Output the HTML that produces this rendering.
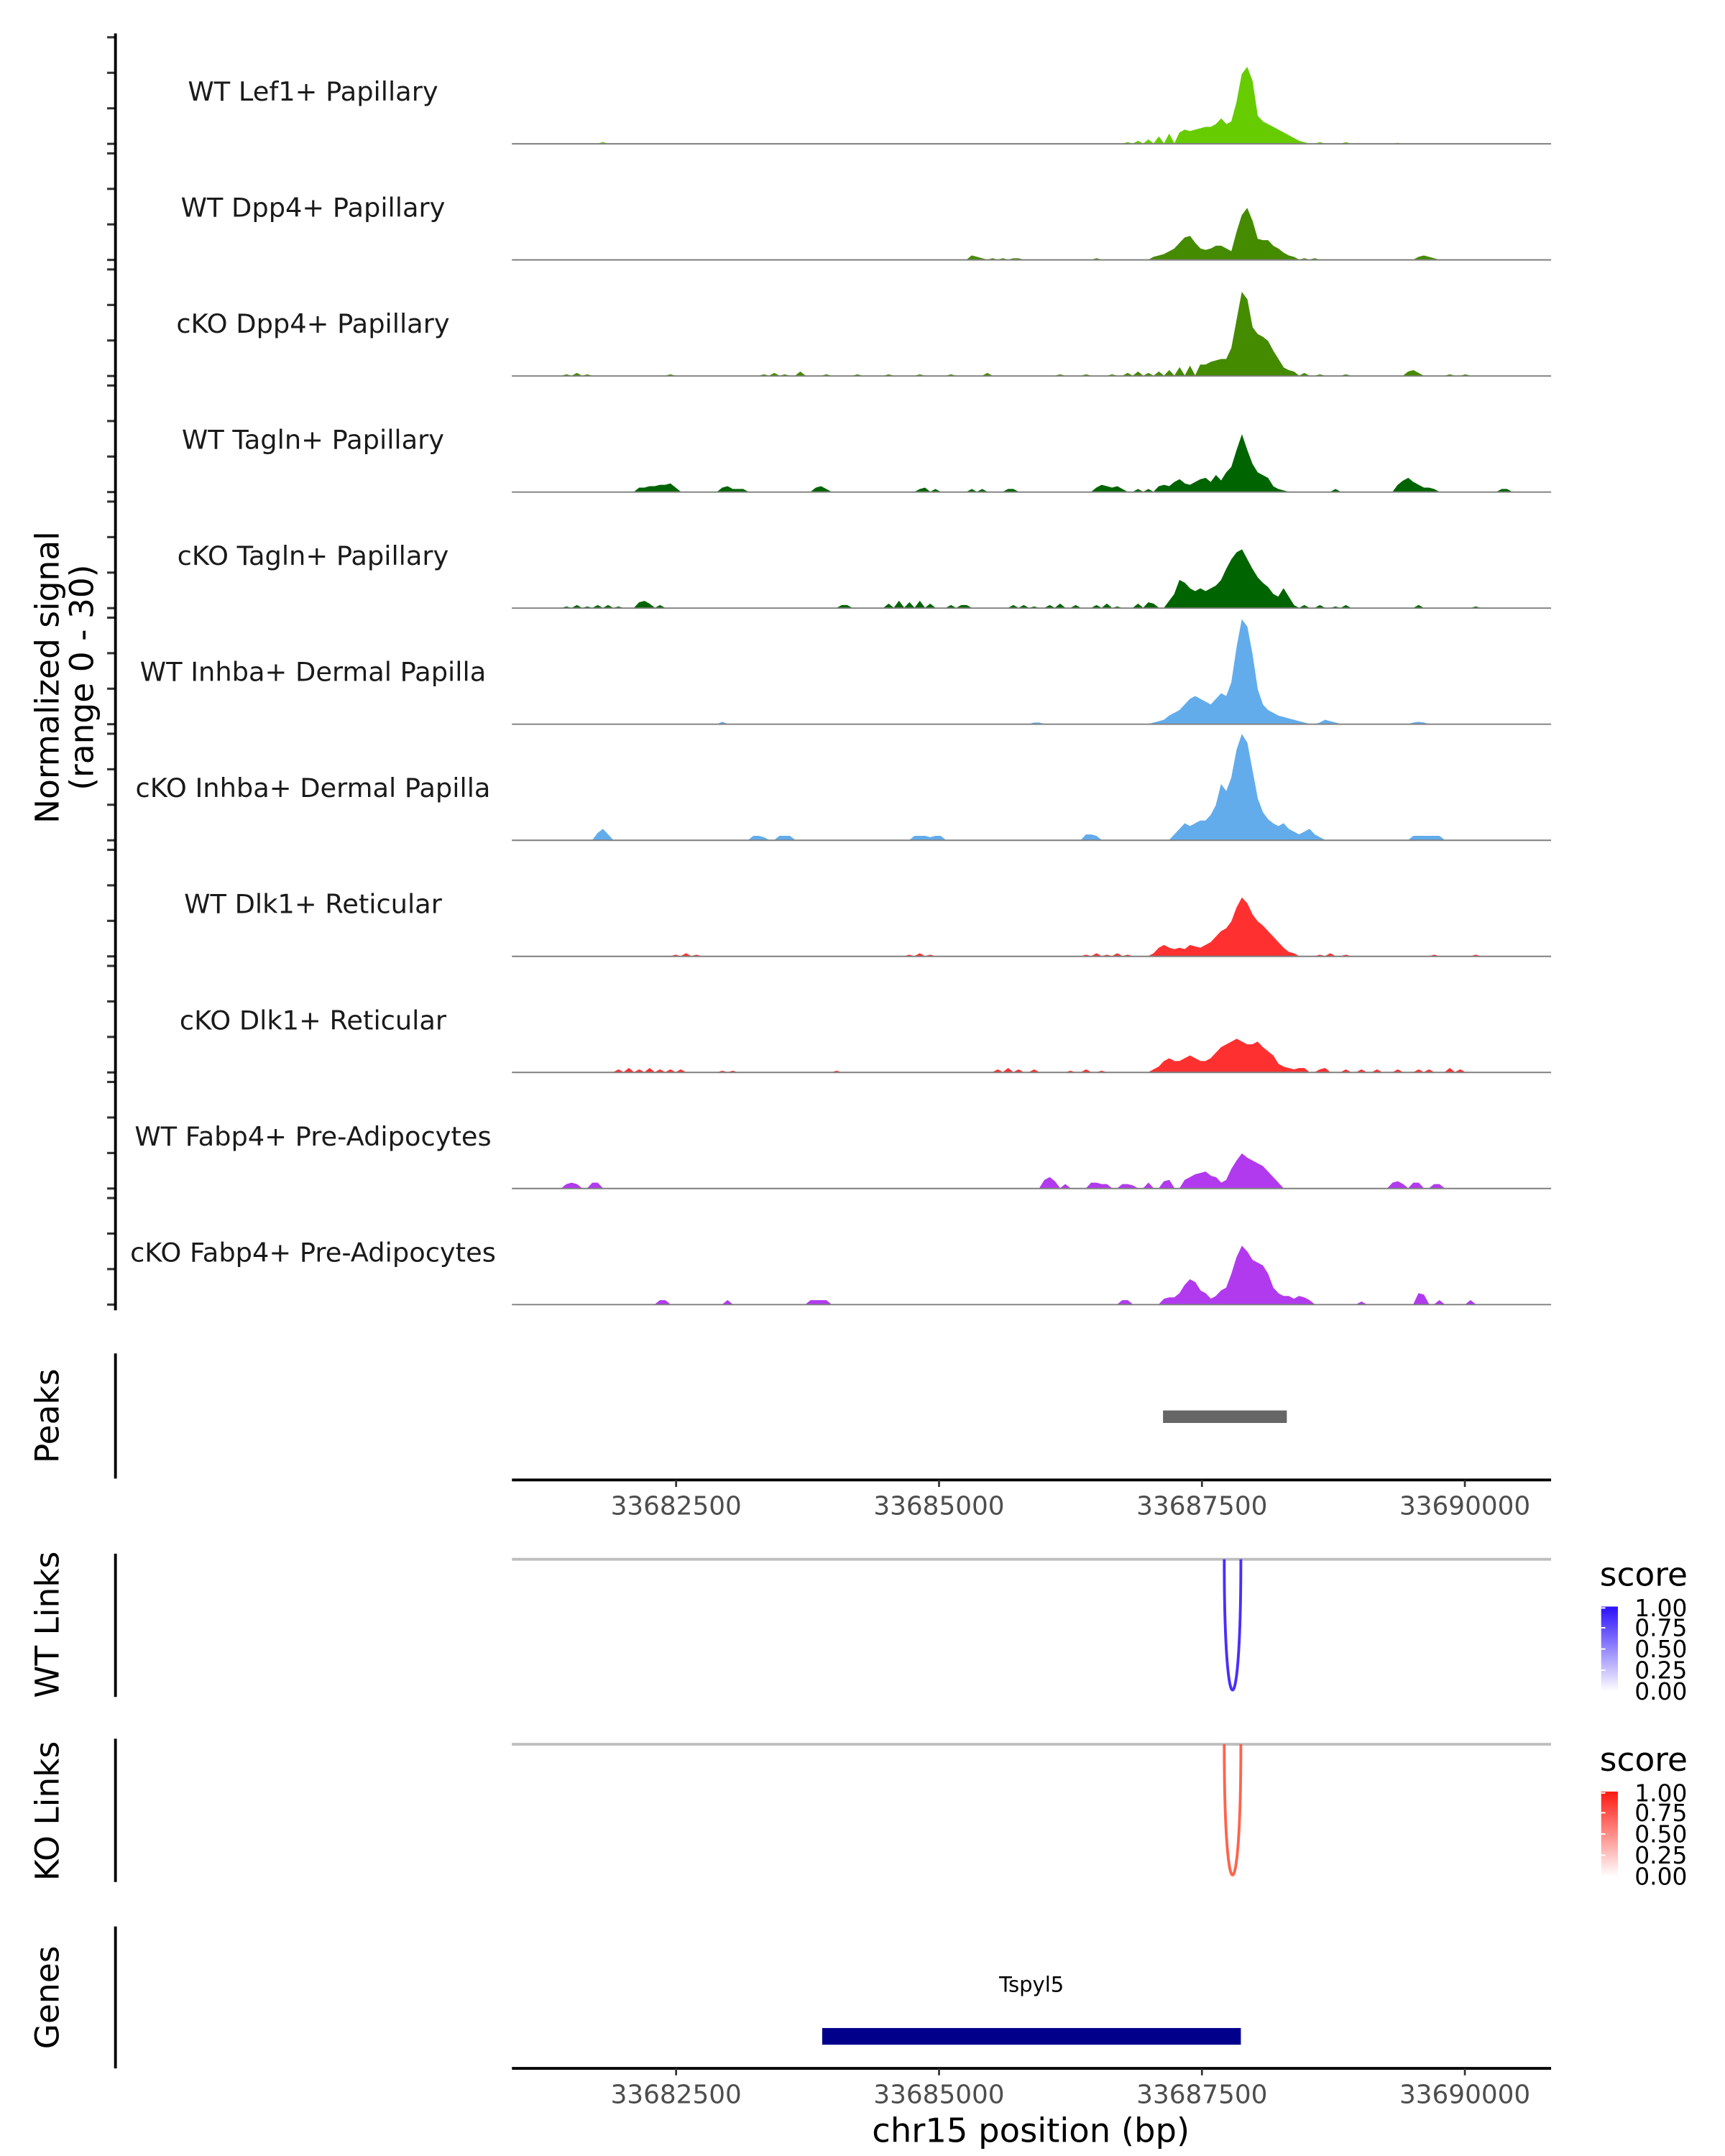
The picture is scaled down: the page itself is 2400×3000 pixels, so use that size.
<!DOCTYPE html>
<html><head><meta charset="utf-8">
<style>
html,body{margin:0;padding:0;background:#fff;}
svg{display:block;}
text{font-family:"DejaVu Sans","Liberation Sans",sans-serif;}
</style></head>
<body>
<svg id="chart" xmlns="http://www.w3.org/2000/svg" width="2400" height="3000" viewBox="0 0 1240 1550">
<rect width="1240" height="1550" fill="#fff"/>
<g id="tracks"></g>
<g id="left"></g>
<text transform="translate(42,487) rotate(-90)" text-anchor="middle" font-size="23.5" fill="#000">Normalized signal</text>
<text transform="translate(67,487) rotate(-90)" text-anchor="middle" font-size="23.5" fill="#000">(range 0 - 30)</text>
<text transform="translate(42,1018) rotate(-90)" text-anchor="middle" font-size="23.5">Peaks</text>
<text transform="translate(42,1168) rotate(-90)" text-anchor="middle" font-size="23.5">WT Links</text>
<text transform="translate(42,1302) rotate(-90)" text-anchor="middle" font-size="23.5">KO Links</text>
<text transform="translate(42,1436) rotate(-90)" text-anchor="middle" font-size="23.5">Genes</text>
<g id="lower"></g>
<text x="741" y="1540" text-anchor="middle" font-size="24">chr15 position (bp)</text>
<defs>
<linearGradient id="gBlue" x1="0" y1="1" x2="0" y2="0"><stop offset="0" stop-color="#ffffff"/><stop offset="1" stop-color="#2a10ff"/></linearGradient>
<linearGradient id="gRed" x1="0" y1="1" x2="0" y2="0"><stop offset="0" stop-color="#ffffff"/><stop offset="1" stop-color="#ff1a10"/></linearGradient>
</defs>
</svg>
<script>
const NS="http://www.w3.org/2000/svg";
const xMinBp=33680939, xMaxBp=33690820;
const nBins=200;
const xTicks=[33682500,33685000,33687500,33690000];
const trackNames=["WT Lef1+ Papillary","WT Dpp4+ Papillary","cKO Dpp4+ Papillary","WT Tagln+ Papillary","cKO Tagln+ Papillary","WT Inhba+ Dermal Papilla","cKO Inhba+ Dermal Papilla","WT Dlk1+ Reticular","cKO Dlk1+ Reticular","WT Fabp4+ Pre-Adipocytes","cKO Fabp4+ Pre-Adipocytes"];
const trackColors=["#66cc00","#458b00","#458b00","#006400","#006400","#63acec","#63acec","#ff3030","#ff3030","#b23aee","#b23aee"];
// sparse coverage: bin indices (200 bins across region) and values (signal, 77.5 = top of range)
const lef1Bins=[17,118,120,122,124,126,128,129,130,131,132,133,134,135,136,137,138,139,140,141,142,143,144,145,146,147,148,149,150,151,152,155,160,170];
const lef1Vals=[1,1,2,3,5,7,8,10,9,10,11,12,12,14,18,14,16,30,50,55,45,20,16,14,12,10,8,6,4,2,1,1,1,0.5];
const wtDpp4Bins=[88,89,90,92,94,96,97,112,123,124,125,126,127,128,129,130,131,132,133,134,135,136,137,138,139,140,141,142,143,144,145,146,147,148,149,150,152,154,174,175,176,177];
const wtDpp4Vals=[3,2,1,1,1,1,1,1,2,3,4,6,8,12,16,17,12,8,7,8,10,10,8,6,20,32,37,28,15,14,14,10,8,5,3,2,1,1,2,3,2,1];
const koDpp4Bins=[10,12,14,30,48,50,52,55,60,66,72,78,84,91,105,110,115,118,120,122,124,126,128,130,132,133,134,135,136,137,138,139,140,141,142,143,144,145,146,147,148,149,150,152,155,160,172,173,174,180,183];
const koDpp4Vals=[1,2,1,1,1,2,1,3,1,1,1,1,1,2,1,1,1,2,3,2,3,4,6,7,8,8,10,11,12,12,20,40,60,55,35,30,28,25,18,12,6,4,3,2,1,1,3,4,2,1,1];
const wtTaglnBins=[24,25,26,27,28,29,30,31,40,41,42,43,44,58,59,60,78,79,81,88,90,95,96,112,113,114,115,116,117,120,122,124,125,126,127,128,129,130,131,132,133,134,135,136,137,138,139,140,141,142,143,144,145,146,147,148,158,170,171,172,173,174,175,176,177,190,191];
const wtTaglnVals=[3,3,4,4,5,5,6,3,3,4,2,2,2,3,4,2,2,3,2,2,2,2,2,3,5,4,3,4,2,2,2,4,5,4,7,9,6,5,7,9,10,7,12,8,14,18,30,41,30,20,14,12,10,4,2,1,2,5,8,10,7,5,3,3,2,2,2];
const koTaglnBins=[10,12,14,16,18,20,24,25,26,28,63,64,72,74,76,78,80,84,86,87,96,98,100,103,105,108,112,114,116,120,122,123,126,127,128,129,130,131,132,133,134,135,136,137,138,139,140,141,142,143,144,145,146,147,148,149,150,152,155,158,160,174,185];
const koTaglnVals=[1,2,1,2,2,1,4,5,3,2,2,2,3,5,4,5,3,2,2,2,2,2,1,2,3,2,2,3,1,3,4,3,5,10,20,18,14,12,14,12,14,16,20,28,35,40,42,35,28,22,18,15,10,8,14,8,2,2,2,1,2,2,1];
const wtInhbaBins=[40,100,101,123,124,125,126,127,128,129,130,131,132,133,134,135,136,137,138,139,140,141,142,143,144,145,146,147,148,149,150,151,152,155,156,157,158,173,174,175];
const wtInhbaVals=[1.5,1,1,1,2,3,6,8,10,14,18,20,18,16,14,18,22,20,30,55,75,70,50,25,14,10,8,6,5,4,3,2,1,1,3,2,1,1,1.5,1];
const koInhbaBins=[16,17,18,46,47,48,51,52,53,77,78,79,80,81,82,110,111,112,127,128,129,130,131,132,133,134,135,136,137,138,139,140,141,142,143,144,145,146,147,148,149,150,151,152,153,154,155,173,174,175,176,177,178];
const koInhbaVals=[5,8,4,3,3,2,3,3,3,3,3,3,2,3,3,4,4,3,4,8,12,10,12,14,14,18,25,40,35,45,65,76,70,50,30,20,15,12,10,12,8,6,4,6,8,4,2,3,3,3,3,3,3];
const wtDlk1Bins=[31,33,35,76,78,80,110,112,114,116,118,123,124,125,126,127,128,129,130,131,132,133,134,135,136,137,138,139,140,141,142,143,144,145,146,147,148,149,150,155,157,160,177,185];
const wtDlk1Vals=[1,2,1,1,2,1,1,2,1,2,1,2,6,8,6,5,6,5,8,7,6,8,10,14,18,20,25,35,42,38,30,25,22,18,14,10,6,3,2,1,2,1,1,1];
const koDlk1Bins=[20,22,24,26,28,30,32,40,42,62,93,95,97,100,107,110,113,123,124,125,126,127,128,129,130,131,132,133,134,135,136,137,138,139,140,141,142,143,144,145,146,147,148,149,150,151,152,155,156,160,163,166,170,174,176,180,182];
const koDlk1Vals=[2,3,2,3,2,2,2,1,1,1,2,3,2,2,1,2,1,2,4,8,10,8,8,10,12,10,8,8,10,14,18,20,22,24,22,20,20,22,18,15,12,6,4,3,2,3,3,2,3,2,2,2,2,2,2,3,2];
const wtFabp4Bins=[10,11,12,15,16,102,103,104,106,111,112,113,114,117,118,119,122,125,126,129,130,131,132,133,134,135,136,137,138,139,140,141,142,143,144,145,146,147,169,170,171,173,174,177,178];
const wtFabp4Vals=[3,4,3,4,4,6,8,5,3,4,4,3,3,3,3,2,4,5,6,6,8,10,11,12,9,8,4,6,14,20,25,22,20,18,16,12,8,4,4,5,3,4,4,3,3];
const koFabp4Bins=[28,29,41,57,58,59,60,117,118,125,126,127,128,129,130,131,132,133,134,135,136,137,138,139,140,141,142,143,144,145,146,147,148,149,150,151,152,153,163,174,175,178,184];
const koFabp4Vals=[3,3,3,3,3,3,3,3,3,4,5,5,8,14,18,16,10,8,4,6,10,12,22,34,42,38,32,30,28,22,12,8,6,6,4,6,5,3,2,8,7,3,3];
const trackBins=[lef1Bins,wtDpp4Bins,koDpp4Bins,wtTaglnBins,koTaglnBins,wtInhbaBins,koInhbaBins,wtDlk1Bins,koDlk1Bins,wtFabp4Bins,koFabp4Bins];
const trackVals=[lef1Vals,wtDpp4Vals,koDpp4Vals,wtTaglnVals,koTaglnVals,wtInhbaVals,koInhbaVals,wtDlk1Vals,koDlk1Vals,wtFabp4Vals,koFabp4Vals];
const peakStarts=[33687130], peakEnds=[33688307];
const wtLinkStarts=[33687712], wtLinkEnds=[33687870], wtLinkScores=[0.9];
const koLinkStarts=[33687712], koLinkEnds=[33687870], koLinkScores=[0.8];
const geneNames=["Tspyl5"], geneStarts=[33683889], geneEnds=[33687870];
const legendTicks=["1.00","0.75","0.50","0.25","0.00"];

const X0=368, X1=1115;
function xs(bp){return X0+(bp-xMinBp)/(xMaxBp-xMinBp)*(X1-X0);}
const binW=(xMaxBp-xMinBp)/nBins;
const YMAX=77.5, TRACK_H=77.5;
function baseY(k){return 103.4+83.45*k;}
function mk(tag,attrs,parent,txt){const e=document.createElementNS(NS,tag);for(const a in attrs)e.setAttribute(a,attrs[a]);if(txt!==undefined)e.textContent=txt;parent.appendChild(e);return e;}

const tg=document.getElementById('tracks');
const left=document.getElementById('left');
trackNames.forEach((nm,k)=>{
  const b=baseY(k);
  const arr=new Array(nBins).fill(0);
  trackBins[k].forEach((bi,j)=>{arr[bi]=trackVals[k][j];});
  let d="M"+X0+","+b;
  for(let i=0;i<nBins;i++){
    const xc=xs(xMinBp+(i+0.5)*binW);
    const y=b-arr[i]/YMAX*TRACK_H;
    d+=" L"+xc.toFixed(2)+","+y.toFixed(2);
  }
  d+=" L"+X1+","+b+" Z";
  const p=mk('path',{d:d,fill:trackColors[k],stroke:trackColors[k],'stroke-width':0.4},tg);
  
  
  const bl=mk('line',{x1:X0,x2:X1,y1:b,y2:b,stroke:'#7f7f7f','stroke-width':1},tg);
  
  
  const t=mk('text',{x:225,y:b-31,'text-anchor':'middle','font-size':19,fill:'#1a1a1a'},tg,nm);
  
  
  [0,10,20,30].forEach(v=>{
    const ty=b-v/30*76.6;
    const tk=mk('line',{x1:77,x2:83,y1:ty,y2:ty,stroke:'#333','stroke-width':1.6},left);
    
    
  });
});
const ax=mk('line',{x1:83,x2:83,y1:24,y2:942,stroke:'#000','stroke-width':2},left);



const lw=document.getElementById('lower');
[[973,1063],[1117,1220],[1250,1353],[1385,1487]].forEach(r=>{
  const l=mk('line',{x1:83,x2:83,y1:r[0],y2:r[1],stroke:'#000','stroke-width':2},lw);
  
  
});
peakStarts.forEach((s,i)=>{
  const r=mk('rect',{x:xs(s),y:1014,width:xs(peakEnds[i])-xs(s),height:9,fill:'#666'},lw);
  
  
});
function xAxis(y,name){
  const l=mk('line',{x1:X0,x2:X1,y1:y,y2:y,stroke:'#000','stroke-width':2},lw);
  
  
  xTicks.forEach(v=>{
    const tk=mk('line',{x1:xs(v),x2:xs(v),y1:y,y2:y+5,stroke:'#333','stroke-width':1.4},lw);
    
    
    const tl=mk('text',{x:xs(v),y:y+25,'text-anchor':'middle','font-size':18.5,fill:'#4d4d4d'},lw,String(v));
    
    
  });
}
xAxis(1064,'peaks-x-axis');
xAxis(1487,'genes-x-axis');

function links(y0,starts,ends,scores,col,grad,name){
  const g=mk('line',{x1:X0,x2:X1,y1:y0,y2:y0,stroke:'#bebebe','stroke-width':2},lw);
  
  
  starts.forEach((s,i)=>{
    const a=xs(s), b=xs(ends[i]), depth=94;
    const c=y0+depth/0.75;
    const p=mk('path',{d:`M${a},${y0} C${a},${c} ${b},${c} ${b},${y0}`,fill:'none',stroke:col,'stroke-width':2,'stroke-opacity':0.3+0.7*scores[i]},lw);
    
    
  });
  const lt=mk('text',{x:1150,y:y0+19,'font-size':23.5},lw,'score');
  
  
  const top=y0+34, h=61;
  const cb=mk('rect',{x:1151,y:top,width:12,height:h,fill:`url(#${grad})`},lw);
  
  
  legendTicks.forEach((t,i)=>{
    const ty=top+i*h/4+(i===0?1:0);
    const tl=mk('text',{x:1175,y:ty+6,'font-size':17},lw,t);
    
    
    const tk=mk('line',{x1:1151,x2:1154,y1:ty,y2:ty,stroke:'#fff','stroke-width':1},lw);
    
    
  });
}
links(1121,wtLinkStarts,wtLinkEnds,wtLinkScores,'#3b1eff','gBlue','wt-link-arc');
links(1254,koLinkStarts,koLinkEnds,koLinkScores,'#ff4b30','gRed','ko-link-arc');

geneNames.forEach((gname,i)=>{
  const a=xs(geneStarts[i]), b=xs(geneEnds[i]);
  const r=mk('rect',{x:a,y:1458,width:b-a,height:12,fill:'#00008b'},lw);
  
  
  const t=mk('text',{x:(a+b)/2,y:1432,'text-anchor':'middle','font-size':15},lw,gname);
  
  
});
</script>
</body></html>
